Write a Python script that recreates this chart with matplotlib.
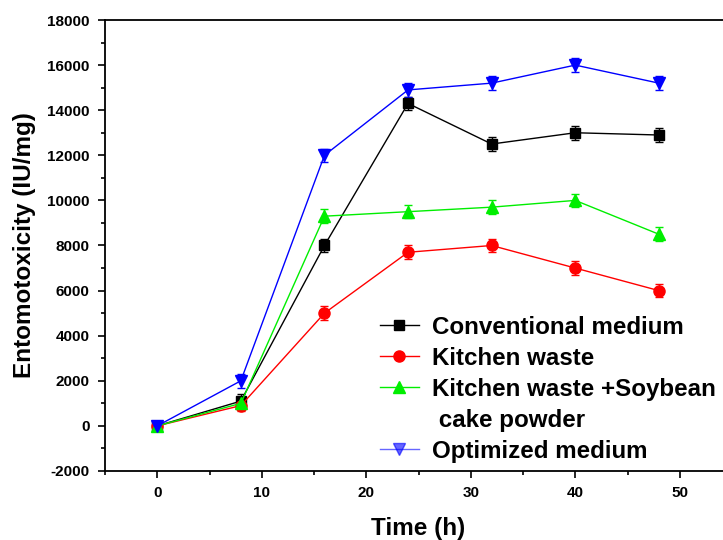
import numpy as np
import matplotlib.pyplot as plt

plt.rcParams['font.family'] = ['Liberation Sans', 'DejaVu Sans']
plt.rcParams['font.weight'] = 'bold'
plt.rcParams['axes.unicode_minus'] = False

time_h = [0, 8, 16, 24, 32, 40, 48]
conventional = [0, 1100, 8000, 14300, 12500, 13000, 12900]
kitchen = [0, 900, 5000, 7700, 8000, 7000, 6000]
kitchen_soy = [0, 1000, 9300, 9500, 9700, 10000, 8500]
optimized = [0, 2000, 12000, 14900, 15200, 16000, 15200]
err_conv = [150, 300, 300, 300, 300, 300, 300]
err_kit = [150, 250, 300, 300, 300, 300, 300]
err_soy = [150, 250, 300, 300, 300, 300, 300]
err_opt = [150, 300, 300, 300, 300, 300, 300]

labels = ['Conventional medium', 'Kitchen waste',
          'Kitchen waste +Soybean', 'Optimized medium']
soy_second_line = ' cake powder'

fig = plt.figure(figsize=(7.23, 5.4), dpi=100)
# axes runs past the right edge of the picture (right spine cut off)
ax = fig.add_axes([105 / 723, 69 / 540, 627 / 723, 451 / 540])

series = [(conventional, err_conv, 'k', 's', 7),
          (kitchen, err_kit, 'red', 'o', 8),
          (kitchen_soy, err_soy, '#00ee00', '^', 8),
          (optimized, err_opt, 'blue', 'v', 8)]

handles = []
for (y, e, c, m, ms), lab in zip(series, labels):
    ax.errorbar(time_h, y, yerr=e, color=c, marker=m, ms=ms, lw=1,
                elinewidth=1, capsize=3, capthick=1)
    h, = ax.plot([], [], color=c, marker=m, ms=ms, lw=1,
                 alpha=0.6 if c == 'blue' else 1)
    handles.append(h)

# blank handle so the second line of the soybean label gets its own row
blank, = ax.plot([], [], alpha=0)
leg_handles = handles[:3] + [blank] + handles[3:]
leg_labels = labels[:3] + [soy_second_line] + labels[3:]

ax.set_xlim(-5, 55)
ax.set_ylim(-2000, 18000)
ax.set_xticks(range(0, 51, 10))
ax.set_xticks(range(-5, 56, 10), minor=True)
ax.set_yticks(range(-2000, 18001, 2000))
ax.set_yticks(range(-1000, 18000, 2000), minor=True)
ax.tick_params(direction='out', length=5, width=1.2, labelsize=11, pad=6)
ax.tick_params(which='minor', direction='out', length=3, width=1.2)
for s in ['top', 'bottom', 'left', 'right']:
    ax.spines[s].set_linewidth(1.3)

ax.set_xlabel('Time (h)', fontsize=17.5, fontweight='bold', labelpad=12)
ax.set_ylabel('Entomotoxicity (IU/mg)', fontsize=17.5, fontweight='bold', labelpad=8)

leg = ax.legend(leg_handles, leg_labels, loc='upper left', bbox_to_anchor=(0.423, 0.366),
                frameon=False, fontsize=17.4, handlelength=1.6, handletextpad=0.55,
                labelspacing=0.33, borderaxespad=0)

plt.savefig('out.png', dpi=100)
